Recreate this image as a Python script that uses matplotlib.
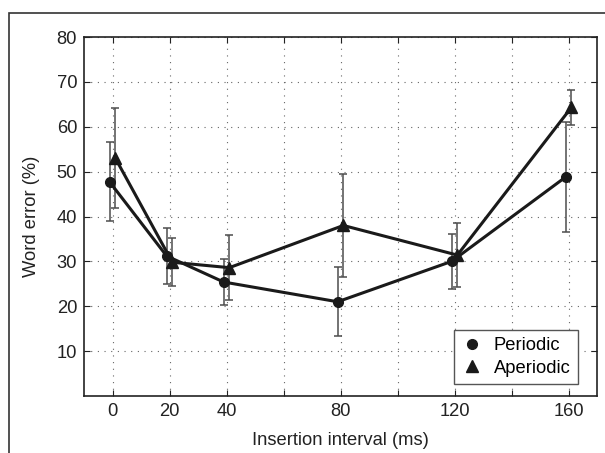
import matplotlib
matplotlib.use('Agg')
import matplotlib.pyplot as plt
from matplotlib.patches import Rectangle

# Datos
intervals = [0, 20, 40, 80, 120, 160]
periodic = [47.7, 31.2, 25.4, 21.0, 30.0, 48.8]
periodic_err = [8.8, 6.3, 5.2, 7.7, 6.1, 12.3]
aperiodic = [53.0, 29.8, 28.6, 38.0, 31.4, 64.3]
aperiodic_err = [11.2, 5.3, 7.3, 11.4, 7.1, 4.0]
tick_labels = ['0', '20', '40', '', '80', '', '120', '', '160']

plt.rcParams['font.family'] = ['Liberation Sans', 'DejaVu Sans']
plt.rcParams['font.size'] = 13.2

fig = plt.figure(figsize=(6.05, 4.53), dpi=100)
ax = fig.add_axes([84 / 605, 1 - 396 / 453, 513 / 605, 359 / 453])

# marco exterior
fig.patches.append(Rectangle((9 / 605, -0.5), 2, 0.5 + 1 - 13 / 453,
                             transform=fig.transFigure, fill=False,
                             edgecolor='#333333', linewidth=1.2))

x_p = [x - 1 for x in intervals]
x_a = [x + 1 for x in intervals]

ax.errorbar(x_p, periodic, yerr=periodic_err, fmt='o-', color='#1a1a1a',
            ecolor='#4d4d4d', elinewidth=1.1, capsize=3, capthick=1.1,
            linewidth=2.2, markersize=7, label='Periodic', zorder=3)
ax.errorbar(x_a, aperiodic, yerr=aperiodic_err, fmt='^-', color='#1a1a1a',
            ecolor='#4d4d4d', elinewidth=1.1, capsize=3, capthick=1.1,
            linewidth=2.2, markersize=8, label='Aperiodic', zorder=3)

ax.set_xlim(-10, 170)
ax.set_ylim(0, 80)
ax.set_xticks(range(0, 161, 20))
ax.set_xticklabels(tick_labels)
ax.set_yticks(range(10, 81, 10))
ax.tick_params(direction='in', top=True, right=True, length=4,
               colors='#222222', labelcolor='#222222', pad=5)
ax.grid(True, linestyle=(0, (1, 5)), color='#666666', linewidth=0.8)
for s in ax.spines.values():
    s.set_color('#222222')
    s.set_linewidth(1.2)

ax.set_xlabel('Insertion interval (ms)', color='#222222', labelpad=9)
ax.set_ylabel('Word error (%)', color='#222222', labelpad=12)

leg = ax.legend(handles=[
    plt.Line2D([], [], marker='o', color='#1a1a1a', linestyle='none', markersize=7),
    plt.Line2D([], [], marker='^', color='#1a1a1a', linestyle='none', markersize=8)],
    labels=['Periodic', 'Aperiodic'], loc='lower right',
    bbox_to_anchor=(1 - 19 / 513, 12 / 359), borderaxespad=0,
    fancybox=False, framealpha=1, edgecolor='#555555', handletextpad=0.6,
    handlelength=1.2, labelspacing=0.3, borderpad=0.4)
leg.get_frame().set_linewidth(1.0)

fig.savefig('out.png', dpi=100)
